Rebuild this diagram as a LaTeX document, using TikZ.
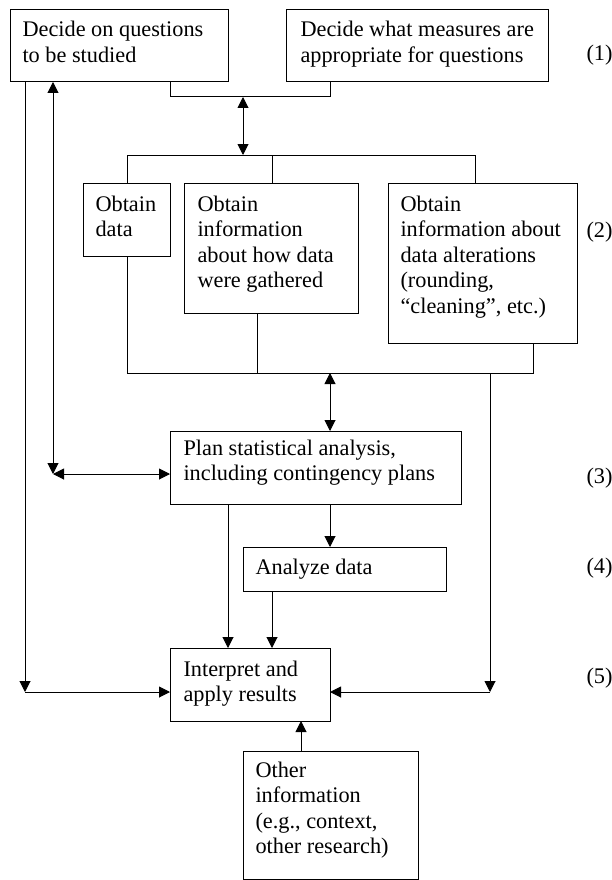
\documentclass[tikz,border=0pt]{standalone}
\usepackage{fontspec}
\setmainfont{Liberation Serif}
\usetikzlibrary{arrows.meta}
\newcommand{\lns}[1]{\begin{tabular}[t]{@{}l@{}}#1\end{tabular}}
\begin{document}
\begin{tikzpicture}[x=1pt,y=-1pt,
  line width=1pt,
  >={Triangle[length=11pt,width=11pt]},
  boxnode/.style={draw,inner sep=0pt,outer sep=0pt,anchor=north west},
  txt/.style={inner sep=0pt,anchor=base west,font=\fontsize{22.3}{25.5}\selectfont},
  num/.style={inner sep=0pt,anchor=base west,font=\fontsize{22.3}{25.5}\selectfont}]
\useasboundingbox (0,0) rectangle (611,880);
% boxes
\node[boxnode,minimum width=218pt,minimum height=72pt] (q) at (10,10) {};
\node[boxnode,minimum width=262pt,minimum height=72pt] (m) at (286,10) {};
\node[boxnode,minimum width=87pt,minimum height=73pt] (od) at (83,183) {};
\node[boxnode,minimum width=174pt,minimum height=130pt] (oi) at (184,183) {};
\node[boxnode,minimum width=189pt,minimum height=160pt] (oa) at (388,183) {};
\node[boxnode,minimum width=291pt,minimum height=73pt] (pl) at (170,431) {};
\node[boxnode,minimum width=203pt,minimum height=44pt] (an) at (243,547) {};
\node[boxnode,minimum width=160pt,minimum height=73pt] (ip) at (170,648) {};
\node[boxnode,minimum width=175pt,minimum height=128pt] (ot) at (243,751) {};
% texts
\node[txt] (qt) at (22,37) {\lns{Decide on questions\\to be studied}};
\node[txt] (mt) at (300,37) {\lns{Decide what measures are\\appropriate for questions}};
\node[txt] (odt) at (95,211) {\lns{Obtain\\data}};
\node[txt] (oit) at (197,211) {\lns{Obtain\\information\\about how data\\were gathered}};
\node[txt] (oat) at (400,211) {\lns{Obtain\\information about\\data alterations\\(rounding,\\“cleaning”, etc.)}};
\node[txt] (plt) at (183,455) {\lns{Plan statistical analysis,\\including contingency plans}};
\node[txt] (ant) at (255,574) {\lns{Analyze data}};
\node[txt] (ipt) at (183,676) {\lns{Interpret and\\apply results}};
\node[txt] (ott) at (255,777) {\lns{Other\\information\\(e.g., context,\\other research)}};
% step numbers
\node[num] (n1) at (586,61) {(1)};
\node[num] (n2) at (586,237) {(2)};
\node[num] (n3) at (586,483) {(3)};
\node[num] (n4) at (586,573) {(4)};
\node[num] (n5) at (586,683) {(5)};
% junction coordinates
\coordinate (bl) at (170,97);
\coordinate (br) at (330,97);
\coordinate (j1) at (243,97);
\coordinate (h1l) at (127,155);
\coordinate (h1m) at (272,155);
\coordinate (h1r) at (475,155);
\coordinate (j2) at (243,155);
\coordinate (h2l) at (127,373);
\coordinate (h2m) at (257,373);
\coordinate (h2r) at (533,373);
\coordinate (j3) at (330,373);
\coordinate (rr) at (490,373);
\coordinate (rc) at (490,692);
\coordinate (lc) at (25,692);
\coordinate (lp) at (53,474);
\coordinate (ax) at (228,600);
\coordinate (bx) at (272,600);
\coordinate (cx) at (301,740);
% connectors
\draw (q.south -| bl) -- (bl) -- (br) -- (m.south -| br);
\draw[<->] (j1) -- (j2);
\draw (od.north -| h1l) -- (h1l) -- (h1r) -- (oa.north -| h1r);
\draw (h1m) -- (oi.north -| h1m);
\draw (od.south -| h2l) -- (h2l) -- (h2r) -- (oa.south -| h2r);
\draw (oi.south -| h2m) -- (h2m);
\draw[<->] (j3) -- (pl.north -| j3);
\draw[->] (pl.south -| j3) -- (an.north -| j3);
\draw[->] (pl.south -| ax) -- (ip.north -| ax);
\draw[->] (an.south -| bx) -- (ip.north -| bx);
\draw[->] (ot.north -| cx) -- (ip.south -| cx);
\draw[->] (rr) -- (rc);
\draw[->] (rc) -- (ip.east |- rc);
\draw[->] (q.south -| lc) -- (lc);
\draw[->] (lc) -- (ip.west |- lc);
\draw[<->] (q.south -| lp) -- (lp);
\draw[<->] (lp) -- (pl.west |- lp);
\end{tikzpicture}
\end{document}
